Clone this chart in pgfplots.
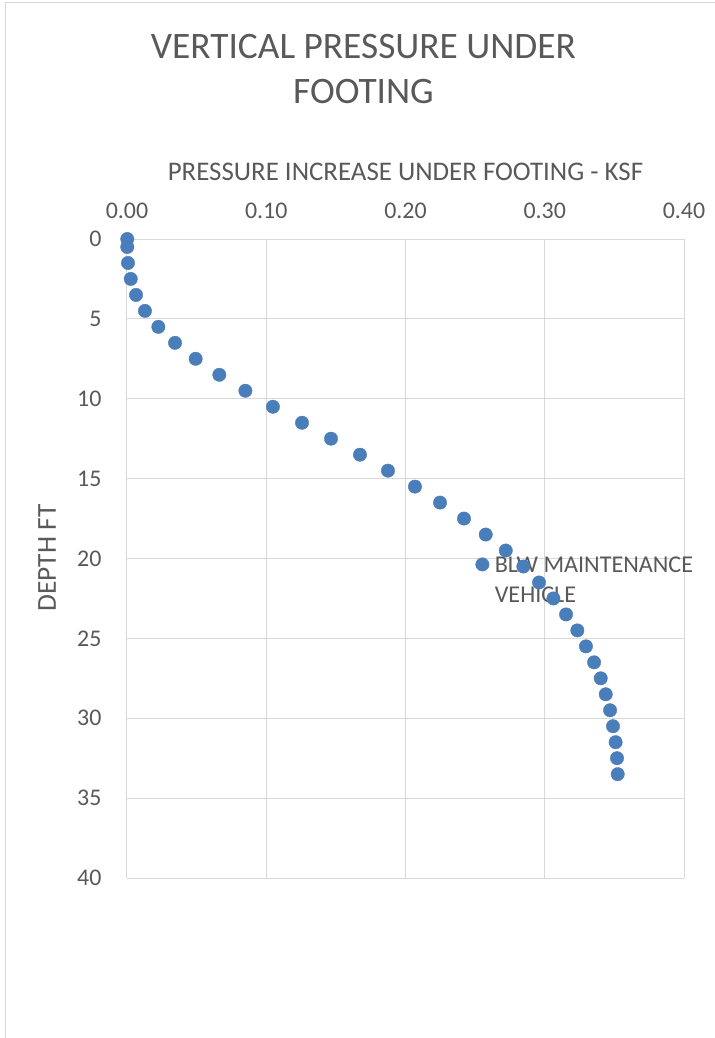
\documentclass[border=0pt]{standalone}
\usepackage{pgfplots}
\pgfplotsset{compat=1.18}
\usepackage{fontspec}
\setmainfont{Carlito}
\definecolor{txt}{HTML}{595959}
\definecolor{grd}{HTML}{D9D9D9}
\definecolor{ser}{HTML}{4A7EBB}
\begin{document}
\begin{tikzpicture}
\begin{axis}[
  name=ax,
  scale only axis, width=557bp, height=639bp,
  xmin=0, xmax=0.4, ymin=0, ymax=40,
  y dir=reverse,
  xtick={0,0.1,0.2,0.3,0.4},
  ytick={0,5,10,15,20,25,30,35,40},
  xticklabel pos=upper,
  x tick label style={/pgf/number format/fixed, /pgf/number format/fixed zerofill, /pgf/number format/precision=2, yshift=17bp},
  /pgf/number format/assume math mode=true,
  ticklabel style={font=\fontsize{24}{28}\selectfont, text=txt},
  y tick label style={xshift=-22bp},
  grid=major,
  major grid style={grd, line width=1bp},
  axis line style={draw=none},
  major tick length=0pt,
  clip=false,
]
\coordinate (ORG) at (axis cs:0,40);
\addplot[only marks, mark=*, mark size=6.7bp, mark options={ser, fill=ser, draw=ser}] coordinates {
(0.0002,0) (0.0002,0.5) (0.0007,1.5) (0.0027,2.5) (0.0065,3.5) (0.0129,4.5)
(0.0225,5.5) (0.0345,6.5) (0.0493,7.5) (0.0663,8.5) (0.0850,9.5) (0.1048,10.5)
(0.1257,11.5) (0.1465,12.5) (0.1673,13.5) (0.1874,14.5) (0.2068,15.5) (0.2248,16.5)
(0.2420,17.5) (0.2576,18.5) (0.2720,19.5) (0.2846,20.5) (0.2959,21.5) (0.3062,22.5)
(0.3153,23.5) (0.3234,24.5) (0.3296,25.5) (0.3354,26.5) (0.3402,27.5) (0.3438,28.5)
(0.3469,29.5) (0.3490,30.5) (0.3509,31.5) (0.3519,32.5) (0.3524,33.5)
};
\addplot[only marks, mark=*, mark size=6.7bp, mark options={ser, fill=ser, draw=ser}] coordinates {(0.2552,20.37)};
\node[txt, anchor=west, font=\fontsize{24.2}{29}\selectfont, inner sep=0pt] at (axis cs:0.2640,20.37) {BLW MAINTENANCE};
\node[txt, anchor=west, font=\fontsize{24.2}{29}\selectfont, inner sep=0pt] at (axis cs:0.2640,22.3) {VEHICLE};
\end{axis}
\useasboundingbox ([shift={(-127bp,-160bp)}]ORG) rectangle ([shift={(588bp,878bp)}]ORG);
\draw[grd,line width=1bp] ([shift={(-121.5bp,-160bp)}]ORG) -- ([shift={(-121.5bp,875bp)}]ORG) -- ([shift={(588bp,875bp)}]ORG);
\node[txt,font=\fontsize{37.5}{44}\selectfont] at ([shift={(236.5bp,831bp)}]ORG) {VERTICAL PRESSURE UNDER};
\node[txt,font=\fontsize{37.5}{44}\selectfont] at ([shift={(236.5bp,786bp)}]ORG) {FOOTING};
\node[txt,font=\fontsize{27}{32}\selectfont] at ([shift={(278.5bp,706bp)}]ORG) {PRESSURE INCREASE UNDER FOOTING - KSF};
\node[txt,font=\fontsize{27.5}{32}\selectfont,rotate=90] at ([shift={(-80bp,320bp)}]ORG) {DEPTH FT};
\end{tikzpicture}
\end{document}
